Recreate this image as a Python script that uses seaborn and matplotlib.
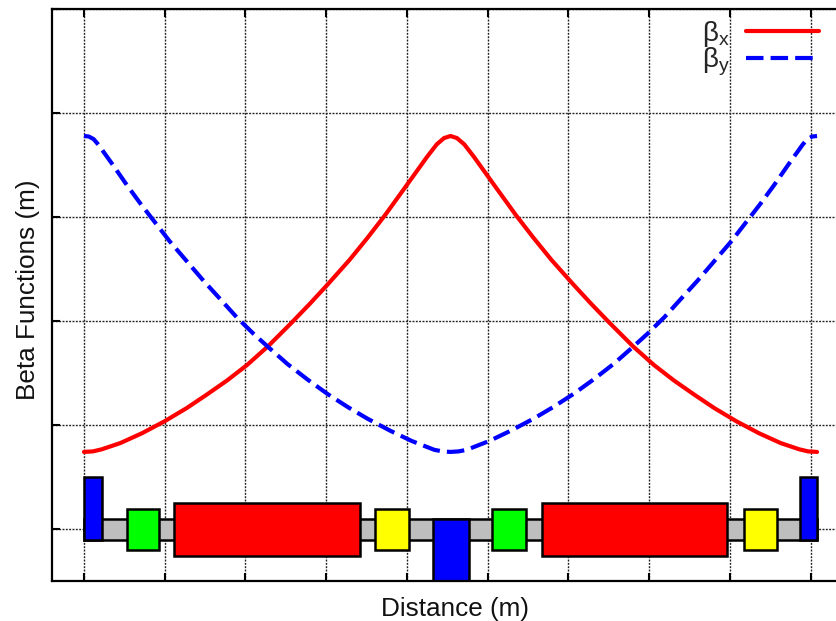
import matplotlib
matplotlib.use('Agg')
import matplotlib.pyplot as plt
import pandas as pd
import seaborn as sns

# Distance along the cell (m) and beta functions (m)
s_x = [0.00, 0.11, 0.22, 0.45, 0.72, 1.00, 1.27, 1.52, 1.77, 2.02, 2.28, 2.57, 2.80, 3.02, 3.29, 3.51,
       3.73, 4.00, 4.25, 4.37, 4.46, 4.54, 4.62, 4.71, 4.83, 5.08, 5.35, 5.57, 5.79, 6.06, 6.28,
       6.51, 6.80, 7.06, 7.31, 7.56, 7.81, 8.08, 8.36, 8.63, 8.86, 8.97, 9.08]
beta_x = [0.745, 0.75, 0.77, 0.83, 0.925, 1.04, 1.165, 1.295, 1.43, 1.58, 1.76, 1.985, 2.17, 2.355, 2.59, 2.80,
          3.02, 3.31, 3.58, 3.70, 3.76, 3.78, 3.76, 3.70, 3.58, 3.31, 3.02, 2.80, 2.59, 2.355, 2.17,
          1.985, 1.76, 1.58, 1.43, 1.295, 1.165, 1.04, 0.925, 0.83, 0.77, 0.75, 0.745]
s_y = [0.00, 0.06, 0.12, 0.18, 0.24, 0.36, 0.53, 0.70, 0.88, 1.06, 1.27, 1.48, 1.68, 1.89, 2.10, 2.30, 2.52,
       2.77, 3.02, 3.27, 3.51, 3.79, 4.06, 4.34, 4.44, 4.54, 4.64, 4.74, 5.02, 5.29, 5.57, 5.81, 6.06, 6.31,
       6.56, 6.78, 6.98, 7.19, 7.40, 7.60, 7.81, 8.02, 8.20, 8.38, 8.55, 8.72, 8.84, 8.90, 8.96, 9.02, 9.08]
beta_y = [3.78, 3.775, 3.75, 3.695, 3.63, 3.50, 3.31, 3.13, 2.95, 2.77, 2.58, 2.39, 2.22, 2.04, 1.88, 1.74, 1.59,
          1.44, 1.30, 1.175, 1.065, 0.95, 0.85, 0.765, 0.75, 0.745, 0.75, 0.765, 0.85, 0.95, 1.065, 1.175, 1.30, 1.44,
          1.59, 1.74, 1.88, 2.04, 2.22, 2.39, 2.58, 2.77, 2.95, 3.13, 3.31, 3.50, 3.63, 3.695, 3.75, 3.775, 3.78]

# Lattice elements: start, length, lower edge, upper edge, colour
elem_start = [0.00, 0.53, 1.11, 3.61, 4.32, 5.06, 5.67, 8.17, 8.87]
elem_len = [0.22, 0.40, 2.31, 0.41, 0.45, 0.41, 2.30, 0.41, 0.21]
elem_low = [-0.10, -0.20, -0.255, -0.20, -0.60, -0.20, -0.255, -0.20, -0.10]
elem_high = [0.505, 0.20, 0.255, 0.20, 0.10, 0.20, 0.255, 0.20, 0.505]
elem_color = ['#0000ff', '#00ff00', '#ff0000', '#ffff00', '#0000ff', '#00ff00', '#ff0000', '#ffff00', '#0000ff']

# Beam pipe behind the magnets
pipe_start, pipe_len, pipe_low, pipe_high = 0.0, 9.08, -0.10, 0.10

x_ticks = [0, 1, 2, 3, 4, 5, 6, 7, 8, 9]
y_ticks = [0, 1, 2, 3, 4, 5]

sns.set_style('white')
plt.rcParams['font.family'] = ['Liberation Sans', 'DejaVu Sans']
plt.rcParams['mathtext.fontset'] = 'custom'
plt.rcParams['mathtext.rm'] = 'Liberation Sans'
plt.rcParams['mathtext.default'] = 'regular'

df = pd.concat([
    pd.DataFrame({'s': s_x, 'beta': beta_x, 'plane': r'$\beta_x$'}),
    pd.DataFrame({'s': s_y, 'beta': beta_y, 'plane': r'$\beta_y$'}),
])

fig = plt.figure(figsize=(8.37, 6.21), dpi=100)
# right edge of the frame runs past the image, same as the original
ax = fig.add_axes([52 / 837, 1 - 581 / 621, 807 / 837, 572 / 621])

sns.lineplot(data=df, x='s', y='beta', hue='plane', style='plane', sort=False, estimator=None,
             palette=['#ff0000', '#0000ff'], dashes=['', (4.2, 1.7)], linewidth=3.0, ax=ax, zorder=4)

ax.bar(pipe_start, pipe_high - pipe_low, width=pipe_len, bottom=pipe_low, align='edge',
       color='#bebebe', edgecolor='black', linewidth=1.8, zorder=3)
ax.bar(elem_start, [h - l for h, l in zip(elem_high, elem_low)], width=elem_len, bottom=elem_low,
       align='edge', color=elem_color, edgecolor='black', linewidth=1.8, zorder=3)

ax.set_xlim(-0.396, 9.6)
ax.set_ylim(-0.495, 5.0)
ax.set_xticks(x_ticks)
ax.set_yticks(y_ticks)
ax.tick_params(direction='in', length=6, width=1.5, color='black', top=True, bottom=True, left=True,
               labelbottom=False, labelleft=False)
ax.set_axisbelow(True)
ax.grid(True, color='#222222', linestyle=(0, (1.4, 1.0)), linewidth=1.0)
for sp in ax.spines.values():
    sp.set_visible(True)
    sp.set_color('black')
    sp.set_linewidth(1.6)
    sp.set_zorder(6)

ax.set_xlabel('Distance (m)', fontsize=18.8, color='#111111', va='center')
ax.set_ylabel('Beta Functions (m)', fontsize=18.8, color='#111111', va='center')
ax.xaxis.set_label_coords(0.4995, -0.049)
ax.yaxis.set_label_coords(-0.0295, 0.509)

handles, labels = ax.get_legend_handles_labels()
ax.legend(handles, labels, loc='upper right', bbox_to_anchor=(819 / 837, 1 - 19 / 621),
          bbox_transform=fig.transFigure, frameon=False, markerfirst=False, fontsize=20,
          handlelength=2.63, handletextpad=0.57, labelspacing=-0.11, borderpad=0, borderaxespad=0)

fig.savefig('out.png', dpi=100)
